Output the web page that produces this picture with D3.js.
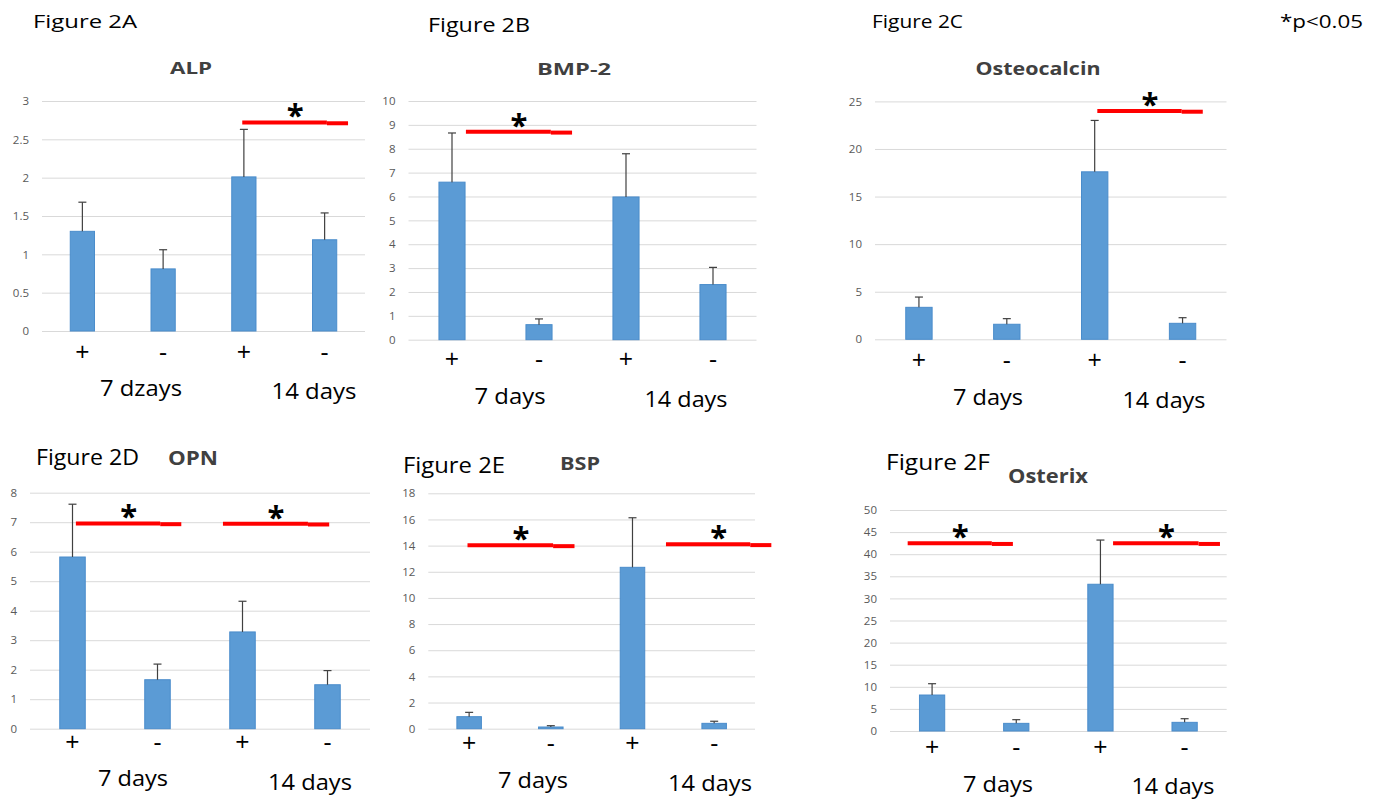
<!DOCTYPE html>
<html>
<head>
<meta charset="utf-8">
<script src="https://cdn.jsdelivr.net/npm/d3@7"></script>
<style>
  html, body { margin: 0; padding: 0; background: #ffffff; }
  svg { display: block; }
  text { font-family: "Open Sans", "Noto Sans", sans-serif; }
</style>
</head>
<body>
<svg id="chart" width="1399" height="799"></svg>
<script>
// ---------------- DATA ----------------
const groups = ["+", "-", "+", "-"];
const periods = ["7 days", "14 days"];

const alpMean = [1.30, 0.81, 2.01, 1.19];
const alpErr  = [0.38, 0.25, 0.62, 0.35];
const alpTicks = [0, 0.5, 1, 1.5, 2, 2.5, 3];

const bmp2Mean = [6.60, 0.63, 5.98, 2.31];
const bmp2Err  = [2.06, 0.24, 1.81, 0.72];
const bmp2Ticks = [0, 1, 2, 3, 4, 5, 6, 7, 8, 9, 10];

const ocnMean = [3.36, 1.58, 17.6, 1.68];
const ocnErr  = [1.08, 0.59, 5.40, 0.59];
const ocnTicks = [0, 5, 10, 15, 20, 25];

const opnMean = [5.82, 1.66, 3.28, 1.49];
const opnErr  = [1.79, 0.53, 1.04, 0.48];
const opnTicks = [0, 1, 2, 3, 4, 5, 6, 7, 8];

const bspMean = [0.92, 0.13, 12.34, 0.41];
const bspErr  = [0.33, 0.10, 3.79, 0.16];
const bspTicks = [0, 2, 4, 6, 8, 10, 12, 14, 16, 18];

const osxMean = [8.14, 1.73, 33.2, 1.96];
const osxErr  = [2.56, 0.83, 10.0, 0.82];
const osxTicks = [0, 5, 10, 15, 20, 25, 30, 35, 40, 45, 50];

// significance bars: start / end in category-index units, level in data units
const alpSig = [{ from: 2.48, to: 3.79, level: 2.72 }];
const bmp2Sig = [{ from: 0.66, to: 1.88, level: 8.71 }];
const ocnSig = [{ from: 2.53, to: 3.73, level: 24.0 }];
const opnSig = [{ from: 0.54, to: 1.78, level: 6.96 }, { from: 2.27, to: 3.52, level: 6.95 }];
const bspSig = [{ from: 0.48, to: 1.79, level: 14.02 }, { from: 2.91, to: 4.20, level: 14.10 }];
const osxSig = [{ from: 0.21, to: 1.46, level: 42.5 }, { from: 2.65, to: 3.92, level: 42.5 }];

const figLabels = ["Figure 2A", "Figure 2B", "Figure 2C", "Figure 2D", "Figure 2E", "Figure 2F"];
const markers = ["ALP", "BMP-2", "Osteocalcin", "OPN", "BSP", "Osterix"];
const dayLabelsA = ["7 dzays", "14 days"];
const sigNote = "*p<0.05";

// ---------------- LAYOUT ----------------
const panels = [
  { mean: alpMean, err: alpErr, ticks: alpTicks, sig: alpSig, fig: figLabels[0], title: markers[0], days: dayLabelsA,
    box: { l: 42, r: 365, t: 101, b: 331 },
    figPos: [33, 28, 19, 104], titlePos: [191, 74, 16, 42],
    signY: 361, dayY: [396, 399], dayX: [141, 314], dayW: [82, 85] },
  { mean: bmp2Mean, err: bmp2Err, ticks: bmp2Ticks, sig: bmp2Sig, fig: figLabels[1], title: markers[1], days: periods,
    box: { l: 408.5, r: 756.5, t: 101, b: 339.7 },
    figPos: [428, 32, 20, 102], titlePos: [574, 75, 16.5, 74],
    signY: 368, dayY: [404, 407], dayX: [510, 686], dayW: [71, 83] },
  { mean: ocnMean, err: ocnErr, ticks: ocnTicks, sig: ocnSig, fig: figLabels[2], title: markers[2], days: periods,
    box: { l: 875, r: 1226.5, t: 101.4, b: 339.3 },
    figPos: [872, 28, 19, 91], titlePos: [1038, 75, 17, 125],
    signY: 369, dayY: [405, 408], dayX: [988, 1164], dayW: [70, 83] },
  { mean: opnMean, err: opnErr, ticks: opnTicks, sig: opnSig, fig: figLabels[3], title: markers[3], days: periods,
    box: { l: 30, r: 370, t: 492.7, b: 728.7 },
    figPos: [36, 465, 21, 103], titlePos: [193, 465, 19, 50],
    signY: 751, dayY: [786, 790], dayX: [133, 310], dayW: [70, 84] },
  { mean: bspMean, err: bspErr, ticks: bspTicks, sig: bspSig, fig: figLabels[4], title: markers[4], days: periods,
    box: { l: 428.3, r: 755, t: 493.3, b: 728.7 },
    figPos: [403, 473, 21, 102], titlePos: [580, 470, 17, 40],
    signY: 752, dayY: [788, 791], dayX: [533, 710], dayW: [70, 84] },
  { mean: osxMean, err: osxErr, ticks: osxTicks, sig: osxSig, fig: figLabels[5], title: markers[5], days: periods,
    box: { l: 890, r: 1226.7, t: 510, b: 731 },
    figPos: [886, 470, 21, 104], titlePos: [1048, 483, 20, 80],
    signY: 756, dayY: [792, 794], dayX: [998, 1173], dayW: [70, 83] }
];

const BAR_FILL = "#5b9bd5";
const BAR_STROKE = "#4a8ccb";
const GRID = "#d9d9d9";
const TICK_TEXT = "#595959";
const TITLE_TEXT = "#404040";
const ERR_COLOR = "#404040";
const SIG_RED = "#ff0000";

const svg = d3.select("#chart");

svg.append("text")
  .attr("x", 1280).attr("y", 28)
  .attr("font-size", 19).attr("fill", "#000")
  .attr("textLength", 83).attr("lengthAdjust", "spacingAndGlyphs")
  .text(sigNote);

panels.forEach(p => {
  const g = svg.append("g");
  const ticks = p.ticks;
  const y = d3.scaleLinear()
    .domain([0, ticks[ticks.length - 1]])
    .range([p.box.b, p.box.t]);
  const x = d3.scaleBand()
    .domain(d3.range(groups.length))
    .range([p.box.l, p.box.r])
    .paddingInner(0.7)
    .paddingOuter(0.35);
  const xi = d3.scaleLinear().domain([0, groups.length]).range([p.box.l, p.box.r]);

  // gridlines + tick labels via axis
  const axis = d3.axisLeft(y)
    .tickValues(ticks)
    .tickSize(-(p.box.r - p.box.l))
    .tickPadding(13)
    .tickFormat(d => String(d));
  const ag = g.append("g")
    .attr("transform", `translate(${p.box.l},0)`)
    .call(axis);
  ag.select(".domain").remove();
  ag.selectAll(".tick line").attr("stroke", GRID).attr("stroke-width", 1);
  ag.selectAll(".tick text")
    .attr("fill", TICK_TEXT)
    .attr("font-size", 11.5)
    .attr("font-family", "'Open Sans', sans-serif");

  // bars
  g.selectAll("rect.bar")
    .data(p.mean)
    .join("rect")
    .attr("class", "bar")
    .attr("x", (d, i) => x(i))
    .attr("width", x.bandwidth())
    .attr("y", d => y(d))
    .attr("height", d => y(0) - y(d))
    .attr("fill", BAR_FILL)
    .attr("stroke", BAR_STROKE)
    .attr("stroke-width", 1);

  // error bars (positive direction only)
  const cap = 4;
  p.mean.forEach((m, i) => {
    const cx = x(i) + x.bandwidth() / 2;
    g.append("line")
      .attr("x1", cx).attr("x2", cx)
      .attr("y1", y(m)).attr("y2", y(m + p.err[i]))
      .attr("stroke", ERR_COLOR).attr("stroke-width", 1.2);
    g.append("line")
      .attr("x1", cx - cap).attr("x2", cx + cap)
      .attr("y1", y(m + p.err[i])).attr("y2", y(m + p.err[i]))
      .attr("stroke", ERR_COLOR).attr("stroke-width", 1.2);
  });

  // group sign labels
  g.selectAll("text.sign")
    .data(groups)
    .join("text")
    .attr("class", "sign")
    .attr("x", (d, i) => x(i) + x.bandwidth() / 2)
    .attr("y", p.signY)
    .attr("text-anchor", "middle")
    .attr("font-size", 25)
    .attr("fill", "#000")
    .text(d => d);

  // period labels
  p.days.forEach((t, k) => {
    g.append("text")
      .attr("x", p.dayX[k] - p.dayW[k] / 2)
      .attr("y", p.dayY[k])
      .attr("font-size", 22)
      .attr("textLength", p.dayW[k])
      .attr("lengthAdjust", "spacingAndGlyphs")
      .attr("fill", "#000")
      .text(t);
  });

  // significance markers
  p.sig.forEach(s => {
    const x1 = xi(s.from), x2 = xi(s.to), yy = y(s.level);
    const xm = x1 + (x2 - x1) * 0.8;
    g.append("line")
      .attr("x1", x1).attr("x2", xm)
      .attr("y1", yy).attr("y2", yy)
      .attr("stroke", SIG_RED).attr("stroke-width", 4);
    g.append("line")
      .attr("x1", xm).attr("x2", x2)
      .attr("y1", yy + 0.8).attr("y2", yy + 0.8)
      .attr("stroke", SIG_RED).attr("stroke-width", 4);
    g.append("text")
      .attr("x", (x1 + x2) / 2)
      .attr("y", yy + 4)
      .attr("text-anchor", "middle")
      .attr("font-size", 31)
      .attr("font-weight", "bold")
      .attr("fill", "#000")
      .text("*");
  });

  // figure label and title
  g.append("text")
    .attr("x", p.figPos[0]).attr("y", p.figPos[1])
    .attr("font-size", p.figPos[2])
    .attr("textLength", p.figPos[3])
    .attr("lengthAdjust", "spacingAndGlyphs")
    .attr("fill", "#000")
    .text(p.fig);
  g.append("text")
    .attr("x", p.titlePos[0] - p.titlePos[3] / 2).attr("y", p.titlePos[1])
    .attr("font-size", p.titlePos[2])
    .attr("textLength", p.titlePos[3])
    .attr("lengthAdjust", "spacingAndGlyphs")
    .attr("font-weight", "bold")
    .attr("fill", TITLE_TEXT)
    .text(p.title);
});
</script>
</body>
</html>
